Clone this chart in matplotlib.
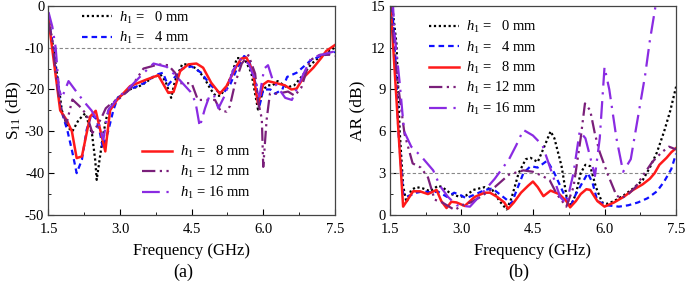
import matplotlib
matplotlib.use("Agg")
import matplotlib.pyplot as plt
from matplotlib.ticker import MultipleLocator

plt.rcParams["font.family"] = ["Liberation Serif", "DejaVu Serif"]
plt.rcParams["mathtext.fontset"] = "custom"
plt.rcParams["mathtext.rm"] = "Liberation Serif"
plt.rcParams["mathtext.it"] = "Liberation Serif:italic"
plt.rcParams["axes.unicode_minus"] = False

# ---- S11 data (GHz, dB) ----
s11_f_0 = [1.5, 1.6, 1.7, 1.78, 1.9, 2.0, 2.13, 2.27, 2.41, 2.48, 2.51, 2.58, 2.65, 2.72, 2.8, 2.95,
           3.2, 3.45, 3.7, 3.85, 3.95, 4.07, 4.15, 4.3, 4.42, 4.6, 4.75, 4.9, 5.0, 5.1, 5.25, 5.35,
           5.45, 5.6, 5.75, 5.89, 6.0, 6.1, 6.2, 6.3, 6.5, 6.65, 6.8, 7.0, 7.2, 7.35, 7.5]
s11_0 = [-3, -10, -18, -25, -29, -30, -27.3, -25.7, -30.5, -37, -41.6, -36, -30.5, -26.5, -24, -22,
         -20, -19, -17, -16.5, -18, -22, -18, -14, -14, -15, -17, -20, -21.5, -21.5, -19, -16,
         -12.5, -12.5, -16, -24.8, -20, -19, -19, -18, -19.5, -19, -17, -14, -12, -11, -10]

s11_f_4 = [1.5, 1.6, 1.7, 1.75, 1.9, 2.0, 2.09, 2.2, 2.3, 2.4, 2.5, 2.58, 2.64, 2.75, 2.86, 2.95,
           3.2, 3.5, 3.75, 3.9, 4.0, 4.15, 4.3, 4.5, 4.7, 4.9, 5.05, 5.15, 5.3, 5.45, 5.6, 5.7,
           5.85, 5.92, 6.0, 6.15, 6.25, 6.4, 6.5, 6.7, 6.9, 7.0, 7.2, 7.4, 7.5]
s11_4 = [-3, -10, -20, -24.3, -30, -35, -40, -36.8, -29.6, -26, -27, -30.5, -34, -30, -24.9, -22,
         -20, -18.5, -16.5, -16, -19, -17, -15, -14.5, -16, -19, -20.5, -21, -19, -15, -12, -13,
         -19, -24, -20, -20, -21, -20, -17, -16, -14, -13, -12, -11.5, -11]

s11_f_8 = [1.5, 1.62, 1.745, 1.88, 1.99, 2.09, 2.2, 2.37, 2.49, 2.69, 2.79, 2.93, 3.21, 3.56,
           3.8, 4.01, 4.12, 4.26, 4.43, 4.6, 4.74, 4.91, 5.09, 5.23, 5.44, 5.54, 5.65, 5.78,
           5.89, 6.0, 6.1, 6.28, 6.45, 6.59, 6.7, 6.84, 7.05, 7.22, 7.32, 7.5]
s11_8 = [-3.3, -14, -25, -27.3, -30, -36.4, -36, -26.5, -25.1, -34.8, -25, -22.6, -19.2, -17.6,
         -16.6, -20.8, -20.6, -15.6, -14, -13.8, -14.8, -18.4, -21, -19.2, -14.4, -12.6, -12.4, -15.6,
         -23.4, -18.8, -18, -18.5, -19, -20, -19.8, -17.2, -14.8, -12.4, -10.8, -9.4]

s11_f_12 = [1.5, 1.58, 1.65, 1.72, 1.8, 1.88, 2.0, 2.15, 2.3, 2.42, 2.5, 2.6, 2.7, 2.8, 2.95,
            3.2, 3.49, 3.65, 3.8, 4.01, 4.15, 4.26, 4.5, 4.63, 4.99, 5.1, 5.23, 5.3, 5.41, 5.55,
            5.69, 5.83, 5.9, 5.97, 6.0, 6.07, 6.14, 6.3, 6.52, 6.66, 6.8, 6.98, 7.19, 7.4, 7.5]
s11_12 = [-4, -8, -16, -22, -26, -28, -22.4, -24, -26, -30.4, -29, -27, -24.5, -23.5, -22.5,
          -20, -15, -14.5, -14, -14.2, -16, -18.5, -18.5, -22.5, -22.5, -25, -25.3, -24, -18.5, -13.8,
          -11.8, -16.2, -23.3, -27, -38.5, -27.3, -21, -21, -20.5, -21.5, -19.5, -13, -11.7, -11.7, -12]

s11_f_16 = [1.5, 1.58, 1.65, 1.72, 1.78, 1.92, 2.05, 2.25, 2.4, 2.55, 2.65, 2.75, 2.95, 3.2,
            3.5, 3.7, 3.98, 4.19, 4.47, 4.58, 4.67, 4.78, 4.88, 4.97, 5.06, 5.2, 5.37, 5.5, 5.58,
            5.7, 5.83, 5.92, 6.02, 6.1, 6.2, 6.46, 6.6, 6.83, 7.0, 7.19, 7.46, 7.5]
s11_16 = [-1.5, -5, -10, -20, -22, -18, -20, -23, -25, -28, -32, -25, -22, -19.5,
          -16, -13.8, -14.6, -17, -20.5, -23, -28.9, -24.5, -21.3, -21.5, -24.5, -21.3, -15.4, -13, -12.6,
          -14, -17.7, -21.7, -15, -14.2, -17.8, -22, -22.5, -16.6, -12.6, -11.8, -11, -11]

# ---- AR data (GHz, dB) ----
ar_f_0 = [1.5, 1.55, 1.64, 1.71, 1.78, 1.85, 1.95, 2.06, 2.2, 2.35, 2.51, 2.6, 2.79, 2.97, 3.1,
          3.25, 3.49, 3.65, 3.8, 3.95, 4.05, 4.2, 4.35, 4.45, 4.6, 4.75, 4.87, 4.95, 5.1, 5.22,
          5.3, 5.4, 5.5, 5.6, 5.7, 5.82, 5.95, 6.05, 6.2, 6.4, 6.6, 6.8, 6.95, 7.1, 7.25, 7.38, 7.5]
ar_0 = [15.5, 15, 12.3, 5.9, 2.1, 0.9, 1.8, 2.0, 1.9, 1.7, 2.1, 2.0, 1.5, 1.3, 1.4,
        1.8, 2.0, 1.8, 1.0, 0.4, 1.2, 3.0, 4.0, 4.1, 3.8, 5.0, 6.0, 5.5, 3.5, 1.0,
        0.7, 1.5, 3.0, 3.6, 3.5, 2.0, 0.9, 0.8, 1.0, 1.4, 1.9, 2.5, 3.4, 4.5, 6.0, 7.5, 9.2]

ar_f_4 = [1.5, 1.55, 1.62, 1.68, 1.78, 1.85, 2.06, 2.2, 2.4, 2.5, 2.7, 2.85, 3.0, 3.1, 3.3, 3.5,
          3.65, 3.8, 3.95, 4.05, 4.15, 4.3, 4.45, 4.6, 4.8, 4.95, 5.15, 5.3, 5.4, 5.55, 5.65,
          5.75, 5.85, 6.05, 6.3, 6.5, 6.7, 6.9, 7.1, 7.25, 7.4, 7.5]
ar_4 = [15.5, 15, 11, 6, 1.55, 1.3, 1.6, 1.7, 1.6, 1.7, 1.3, 1.6, 1.4, 1.2, 1.5, 1.8,
        1.9, 1.5, 1.1, 0.8, 1.7, 3.0, 3.5, 3.4, 3.9, 3.0, 1.5, 0.7, 1.5, 2.4, 3.0,
        2.3, 1.0, 0.7, 0.6, 0.7, 0.9, 1.2, 1.7, 2.4, 3.3, 4.4]

ar_f_8 = [1.5, 1.52, 1.78, 1.99, 2.13, 2.3, 2.48, 2.58, 2.69, 2.79, 2.9, 3.07, 3.28, 3.49, 3.6,
          3.75, 3.9, 3.98, 4.1, 4.25, 4.4, 4.5, 4.6, 4.72, 4.87, 5.05, 5.2, 5.28, 5.4, 5.5,
          5.62, 5.7, 5.85, 6.0, 6.2, 6.4, 6.6, 6.8, 6.95, 7.05, 7.15, 7.3, 7.4, 7.5]
ar_8 = [15.5, 14.9, 0.6, 1.7, 1.7, 1.5, 1.8, 1.0, 0.5, 0.95, 0.9, 0.65, 1.3, 1.6, 1.6,
        1.3, 0.9, 0.45, 0.9, 1.6, 2.1, 2.4, 2.0, 1.35, 1.75, 1.5, 1.0, 0.55, 1.0, 1.5,
        1.85, 1.8, 1.0, 0.6, 0.9, 1.3, 1.8, 2.2, 2.6, 3.0, 3.6, 4.1, 4.5, 4.8]

ar_f_12 = [1.5, 1.56, 1.67, 1.81, 1.98, 2.15, 2.3, 2.44, 2.6, 2.86, 3.07, 3.2, 3.4, 3.7, 4.0,
           4.3, 4.5, 4.7, 4.85, 5.0, 5.2, 5.35, 5.5, 5.59, 5.7, 5.8, 5.9, 6.07, 6.25, 6.35,
           6.5, 6.65, 6.8, 7.0, 7.2, 7.35, 7.5]
ar_12 = [15.5, 13.5, 9.4, 5.8, 3.7, 3.4, 2.7, 1.1, 0.9, 0.36, 0.8, 0.9, 1.3, 2.0, 2.9,
         3.2, 3.1, 2.8, 2.5, 1.5, 0.6, 2.0, 5.5, 8.0, 7.5, 5.8, 4.5, 2.9, 1.4, 1.2,
         1.5, 2.0, 2.8, 3.8, 4.5, 4.9, 4.7]

ar_f_16 = [1.56, 1.6, 1.71, 1.8, 1.95, 2.16, 2.41, 2.55, 2.72, 2.9, 3.18, 3.42, 3.7, 4.0, 4.15,
           4.3, 4.5, 4.7, 4.85, 5.07, 5.2, 5.35, 5.48, 5.6, 5.8, 5.9, 6.0, 6.1, 6.25, 6.39,
           6.55, 6.7, 6.85, 6.95, 7.07]
ar_16 = [15.5, 13, 9.4, 6.0, 4.9, 4.2, 3.2, 2.1, 1.3, 0.7, 0.6, 1.5, 2.6, 4.0, 5.0,
         6.1, 5.7, 5.0, 3.5, 1.3, 0.8, 3.0, 6.0, 5.5, 2.8, 5.5, 10.6, 9.0, 5.5, 3.1,
         4.0, 7.0, 10.0, 12.5, 15.0]

labels = [r"$h_1$ =   0 mm", r"$h_1$ =   4 mm", r"$h_1$ =   8 mm",
          r"$h_1$ = 12 mm", r"$h_1$ = 16 mm"]
colors = ["black", "#1010ff", "#ff1a1a", "#7a1f7a", "#8a2be2"]
styles = [(0, (1, 1.2)), (0, (2.5, 1.8)), "-", (0, (6, 2, 1, 2, 1, 2)), (0, (8, 3, 1, 3))]
widths = [1.6, 1.6, 1.8, 1.6, 1.6]

s11_f = [s11_f_0, s11_f_4, s11_f_8, s11_f_12, s11_f_16]
s11 = [s11_0, s11_4, s11_8, s11_12, s11_16]
ar_f = [ar_f_0, ar_f_4, ar_f_8, ar_f_12, ar_f_16]
ar = [ar_0, ar_4, ar_8, ar_12, ar_16]


def style_axes(ax, ylim, ymajor, yminor):
    ax.set_xlim(1.5, 7.5)
    ax.set_ylim(*ylim)
    ax.xaxis.set_major_locator(MultipleLocator(1.5))
    ax.xaxis.set_minor_locator(MultipleLocator(0.75))
    ax.yaxis.set_major_locator(MultipleLocator(ymajor))
    ax.yaxis.set_minor_locator(MultipleLocator(yminor))
    ax.tick_params(which="both", direction="in", labelsize=10.5)
    ax.tick_params(axis="x", pad=6)
    ax.tick_params(axis="y", pad=3)
    ax.tick_params(which="major", length=4)
    ax.tick_params(which="minor", length=2)
    ax.set_xticks(ax.get_xticks())
    ax.set_xticklabels([f"{v:.1f}" for v in ax.get_xticks()])
    ax.set_xlim(1.5, 7.5)
    for s in ax.spines.values():
        s.set_color("#444444")
        s.set_linewidth(0.9)
    ax.set_xlabel("Frequency (GHz)", fontsize=12, labelpad=5)


fig = plt.figure(figsize=(6.85, 2.89), dpi=100)
ax0 = fig.add_axes([0.0708, 0.256, 0.418, 0.724])
ax1 = fig.add_axes([0.569, 0.256, 0.418, 0.724])

ax0.axhline(-10, color="#888888", lw=0.8, ls=(0, (3, 2)))
lines0 = []
for f, v, c, ls, lw, lab in zip(s11_f, s11, colors, styles, widths, labels):
    ln, = ax0.plot(f, v, color=c, ls=ls, lw=lw, label=lab)
    lines0.append(ln)
style_axes(ax0, (-50, 0), 10, 5)
ax0.set_ylabel(r"S$_{11}$ (dB)", fontsize=12.5, labelpad=1)

leg_kw = dict(frameon=False, fontsize=10.5, handlelength=2.1, handletextpad=0.5,
              labelspacing=0.3, borderaxespad=0)
leg_a = ax0.legend(handles=lines0[:2], loc="upper left", bbox_to_anchor=(0.095, 1.01), **leg_kw)
ax0.add_artist(leg_a)
ax0.legend(handles=lines0[2:], loc="lower left", bbox_to_anchor=(0.305, 0.04), **leg_kw)

ax1.axhline(3, color="#888888", lw=0.8, ls=(0, (3, 2)))
for f, v, c, ls, lw, lab in zip(ar_f, ar, colors, styles, widths, labels):
    ax1.plot(f, v, color=c, ls=ls, lw=lw, label=lab)
style_axes(ax1, (0, 15), 3, 1.5)
ax1.set_ylabel("AR (dB)", fontsize=12.5, labelpad=4)
ax1.legend(loc="upper left", bbox_to_anchor=(0.115, 0.965), **leg_kw)

fig.text(0.267, 0.058, "(a)", ha="center", va="center", fontsize=13)
fig.text(0.757, 0.058, "(b)", ha="center", va="center", fontsize=13)

fig.savefig("out.png", dpi=100)
